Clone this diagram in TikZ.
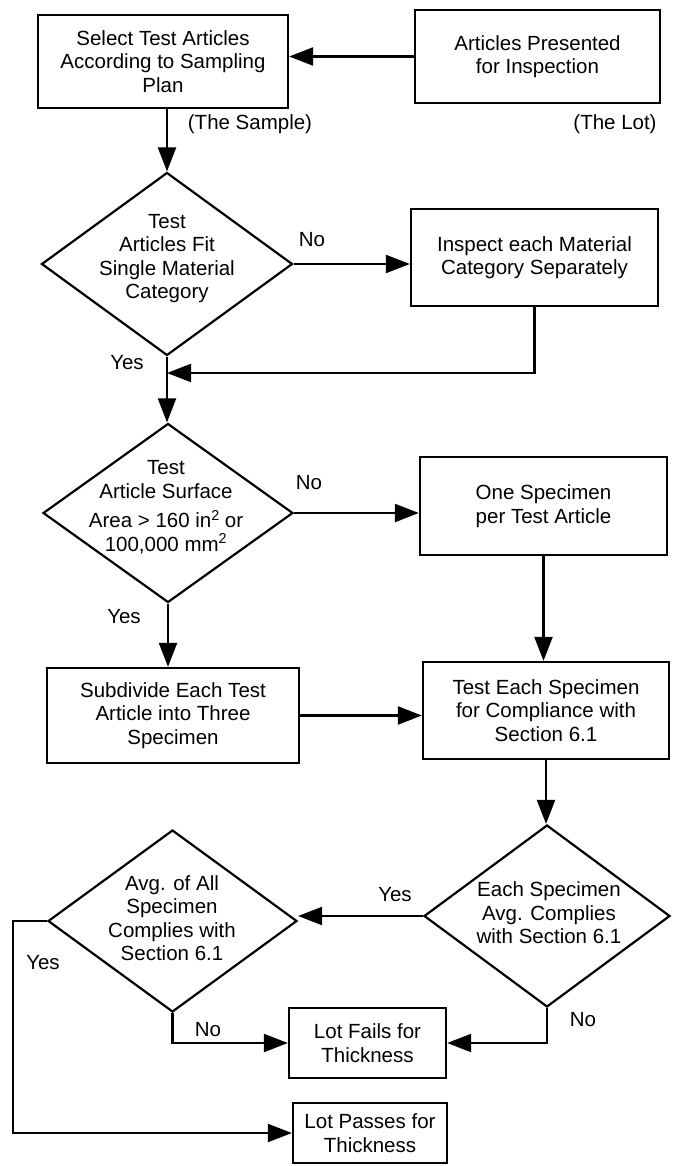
\documentclass[tikz,border=0pt]{standalone}
\usepackage{fontspec}
\setmainfont{Liberation Sans}
\usetikzlibrary{shapes.geometric,arrows.meta}
\tikzset{
  basefont/.style={font=\fontsize{20.5}{23.5}\selectfont},
  boxnode/.style={draw, line width=2.3pt, align=center, inner sep=0pt, basefont},
  dianode/.style={draw, shape=diamond, line width=2.2pt, inner sep=0pt},
  txt/.style={align=center, inner sep=0pt, basefont},
  lbl/.style={inner sep=0pt, basefont},
  arr/.style={line width=2.2pt, -{Triangle[length=24pt,width=18pt]}},
  ln/.style={line width=2.2pt}
}
\begin{document}
\begin{tikzpicture}[x=1pt,y=-1pt]
\useasboundingbox[fill=white] (0,0) rectangle (681,1166);

% boxes
\node[boxnode, minimum width=250pt, minimum height=93pt] (A) at (163,61.5)
  {Select Test Articles\\According to Sampling\\Plan};
\node[boxnode, minimum width=245pt, minimum height=93pt] (B) at (537.5,56.5)
  {Articles Presented\\for Inspection};
\node[boxnode, minimum width=247pt, minimum height=97pt] (C) at (534.5,257.5)
  {Inspect each Material\\Category Separately};
\node[boxnode, minimum width=247pt, minimum height=98pt] (E) at (543.5,506)
  {One Specimen\\per Test Article};
\node[boxnode, minimum width=252pt, minimum height=95pt] (F) at (173,715.5)
  {Subdivide Each Test\\Article into Three\\Specimen};
\node[boxnode, minimum width=246pt, minimum height=97pt] (G) at (546,710.5)
  {Test Each Specimen\\for Compliance with\\Section 6.1};
\node[boxnode, minimum width=157pt, minimum height=70pt] (H) at (367.5,1043)
  {Lot Fails for\\Thickness};
\node[boxnode, minimum width=154pt, minimum height=60pt] (I) at (370,1133)
  {Lot Passes for\\Thickness};

% diamonds
\node[dianode, minimum width=251pt, minimum height=183pt] (D1) at (167,264) {};
\node[txt] (D1t) at (167,258.5) {Test\\Articles Fit\\Single Material\\Category};
\node[dianode, minimum width=250pt, minimum height=179pt] (D2) at (168,513) {};
\node[txt] (D2t) at (166,507.5) {Test\\Article Surface\\[6pt]Area > 160 in\textsuperscript{2}\hspace{5pt}or\\100,000 mm\textsuperscript{2}};
\node[dianode, minimum width=246pt, minimum height=182pt] (D3) at (547,916) {};
\node[txt] (D3t) at (549,913) {Each Specimen\\Avg. Complies\\with Section 6.1};
\node[dianode, minimum width=249pt, minimum height=182pt] (D4) at (172.5,921) {};
\node[txt] (D4t) at (172,918) {Avg. of All\\Specimen\\Complies with\\Section 6.1};

% labels
\node[lbl] (ls) at (250,124) {(The Sample)};
\node[lbl] (ll) at (615,124) {(The Lot)};
\node[lbl] (n1) at (312,240) {No};
\node[lbl] (y1) at (127,363) {Yes};
\node[lbl] (n2) at (309,483) {No};
\node[lbl] (y2) at (124,617) {Yes};
\node[lbl] (y3) at (395,895) {Yes};
\node[lbl] (y4) at (43,963) {Yes};
\node[lbl] (n4) at (208,1030) {No};
\node[lbl] (n3) at (583,1020) {No};

% helper coordinates
\coordinate (m1) at (167,373);
\coordinate (c1) at (13,921);

% connectors
\draw[arr] (B.west) -- (B.west -| A.east);
\draw[arr] (A.south -| D1.north) -- (D1.north);
\draw[arr] (D1.east) -- (D1.east -| C.west);
\draw[arr] (C.south) |- (m1);
\draw[arr] (D1.south) -- (D1.south |- D2.north);
\draw[arr] (D2.east) -- (D2.east -| E.west);
\draw[arr] (E.south) -- (E.south |- G.north);
\draw[arr] (D2.south) -- (D2.south |- F.north);
\draw[arr] (F.east) -- (F.east -| G.west);
\draw[arr] (G.south) -- (G.south |- D3.north);
\draw[arr] (D3.west) -- (D3.west -| D4.east);
\draw[arr] (D3.south) |- (H.east);
\draw[arr] (D4.south) |- (H.west);
\draw[arr] (D4.west) -- (D4.west -| c1) |- (I.west);
\end{tikzpicture}
\end{document}
